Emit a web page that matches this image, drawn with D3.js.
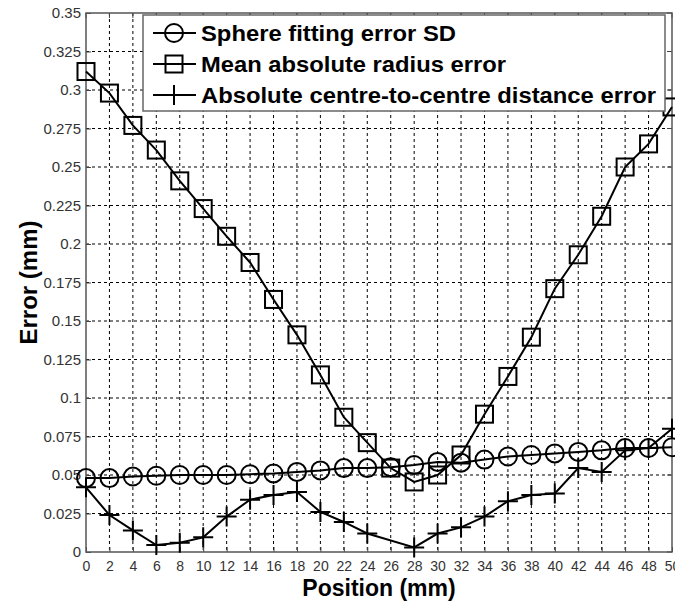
<!DOCTYPE html>
<html>
<head>
<meta charset="utf-8">
<script src="https://cdn.jsdelivr.net/npm/d3@7"></script>
<style>
  body { margin: 0; background: #fff; }
  #chart { width: 675px; height: 601px; }
  text { font-family: Arial, "Liberation Sans", sans-serif; }
</style>
</head>
<body>
<div id="chart"></div>
<script>
// positions in mm
const positions = d3.range(0, 51, 2);

// sphere fitting error SD
const sdError = [0.048, 0.048, 0.049, 0.0495, 0.050, 0.050, 0.050, 0.0505, 0.051, 0.052,
                 0.053, 0.0545, 0.0545, 0.055, 0.0565, 0.0585, 0.058, 0.060, 0.062, 0.063,
                 0.064, 0.065, 0.066, 0.0675, 0.0675, 0.068];

// mean absolute radius error
const radiusError = [0.312, 0.298, 0.277, 0.261, 0.241, 0.223, 0.205, 0.188, 0.164, 0.141,
                     0.115, 0.0875, 0.071, 0.0545, 0.0455, 0.050, 0.063, 0.0895, 0.114, 0.1395,
                     0.171, 0.193, 0.218, 0.250, 0.265, 0.289];

// absolute centre-to-centre distance error (no value at 26 mm)
const centrePositions = [0, 2, 4, 6, 8, 10, 12, 14, 16, 18, 20, 22, 24, 28, 30, 32, 34, 36, 38, 40, 42, 44, 46, 48, 50];
const centreError = [0.042, 0.024, 0.014, 0.0045, 0.006, 0.0095, 0.023, 0.034, 0.037, 0.039,
                     0.026, 0.0195, 0.012, 0.003, 0.012, 0.016, 0.023, 0.033, 0.037, 0.038,
                     0.0545, 0.052, 0.066, 0.0675, 0.080];

const xTicks = d3.range(0, 51, 2);
const yTicks = d3.range(0, 0.3501, 0.025);

const legendLabels = ["Sphere fitting error SD", "Mean absolute radius error", "Absolute centre-to-centre distance error"];

const margin = {top: 13, right: 3, bottom: 49, left: 86};
const width = 675 - margin.left - margin.right;
const height = 601 - margin.top - margin.bottom;

const svg = d3.select("#chart").append("svg")
    .attr("width", 675)
    .attr("height", 601)
    .append("g")
    .attr("transform", `translate(${margin.left}, ${margin.top})`);

const x = d3.scaleLinear().domain([0, 50]).range([0, width]);
const y = d3.scaleLinear().domain([0, 0.35]).range([height, 0]);

// dashed grid
svg.append("g")
    .selectAll("line")
    .data(xTicks.slice(1, -1))
    .join("line")
    .attr("x1", d => x(d)).attr("x2", d => x(d))
    .attr("y1", 0).attr("y2", height)
    .attr("stroke", "#000").attr("stroke-width", 1)
    .attr("stroke-dasharray", "3,3");

svg.append("g")
    .selectAll("line")
    .data(yTicks.slice(1, -1))
    .join("line")
    .attr("x1", 0).attr("x2", width)
    .attr("y1", d => y(d)).attr("y2", d => y(d))
    .attr("stroke", "#000").attr("stroke-width", 1)
    .attr("stroke-dasharray", "3,3");

// axes
const xAxis = d3.axisBottom(x).tickValues(xTicks).tickSize(-5).tickPadding(9).tickFormat(d3.format("d"));
const yAxis = d3.axisLeft(y).tickValues(yTicks).tickSize(-5).tickPadding(5).tickFormat(d => +d.toFixed(3));

const gx = svg.append("g")
    .attr("transform", `translate(0, ${height})`)
    .call(xAxis);
const gy = svg.append("g").call(yAxis);

[gx, gy].forEach(g => {
    g.select(".domain").remove();
    g.selectAll(".tick line").attr("stroke", "#444");
    g.selectAll(".tick text").attr("fill", "#333")
        .attr("font-family", "Arial, 'Liberation Sans', sans-serif");
});
gx.selectAll(".tick text").attr("font-size", "14px");
gy.selectAll(".tick text").attr("font-size", "15px");

// top and right inner ticks
svg.append("g").selectAll("line").data(xTicks).join("line")
    .attr("x1", d => x(d)).attr("x2", d => x(d))
    .attr("y1", 0).attr("y2", 5).attr("stroke", "#444");
svg.append("g").selectAll("line").data(yTicks).join("line")
    .attr("x1", width).attr("x2", width - 5)
    .attr("y1", d => y(d)).attr("y2", d => y(d)).attr("stroke", "#444");

// frame
svg.append("rect")
    .attr("x", 0).attr("y", 0)
    .attr("width", width).attr("height", height)
    .attr("fill", "none").attr("stroke", "#555").attr("stroke-width", 1.5);

// axis labels
svg.append("text")
    .attr("x", width / 2)
    .attr("y", height + 44)
    .attr("text-anchor", "middle")
    .attr("font-size", "23px")
    .attr("font-weight", "bold")
    .text("Position (mm)");

svg.append("text")
    .attr("transform", "rotate(-90)")
    .attr("x", -height / 2)
    .attr("y", -margin.left + 37)
    .attr("text-anchor", "middle")
    .attr("font-size", "24px")
    .attr("font-weight", "bold")
    .text("Error (mm)");

// lines
const line = d3.line()
    .x(d => x(d[0]))
    .y(d => y(d[1]));

const sdData = positions.map((p, i) => [p, sdError[i]]);
const radiusData = positions.map((p, i) => [p, radiusError[i]]);
const centreData = centrePositions.map((p, i) => [p, centreError[i]]);

const plot = svg.append("g");

function drawMarker(g, type, cx, cy) {
    if (type === "circle") {
        g.append("circle").attr("cx", cx).attr("cy", cy).attr("r", 9)
            .attr("fill", "none").attr("stroke", "#000").attr("stroke-width", 2);
    } else if (type === "square") {
        g.append("rect").attr("x", cx - 8.5).attr("y", cy - 8.5)
            .attr("width", 17).attr("height", 17)
            .attr("fill", "none").attr("stroke", "#000").attr("stroke-width", 2);
    } else {
        g.append("path").attr("d", `M${cx - 10},${cy}H${cx + 10}M${cx},${cy - 10}V${cy + 10}`)
            .attr("stroke", "#000").attr("stroke-width", 2);
    }
}

[[sdData, "circle"], [radiusData, "square"], [centreData, "plus"]].forEach(([data, type]) => {
    plot.append("path")
        .datum(data)
        .attr("d", line)
        .attr("fill", "none")
        .attr("stroke", "#000")
        .attr("stroke-width", 2);
    const mg = plot.append("g");
    data.forEach(d => drawMarker(mg, type, x(d[0]), y(d[1])));
});

// legend
const legend = svg.append("g").attr("transform", "translate(57, 2)");
legend.append("rect")
    .attr("x", 0).attr("y", 0)
    .attr("width", 522).attr("height", 96)
    .attr("fill", "#fff").attr("stroke", "#666").attr("stroke-width", 1.5);

const legendWidths = [255, 305, 455];
["circle", "square", "plus"].forEach((type, i) => {
    const ly = 18 + i * 31;
    const row = legend.append("g");
    row.append("line")
        .attr("x1", 10).attr("x2", 53)
        .attr("y1", ly).attr("y2", ly)
        .attr("stroke", "#000").attr("stroke-width", 2);
    drawMarker(row, type, 31, ly);
    row.append("text")
        .attr("x", 58)
        .attr("y", ly + 8)
        .attr("font-size", "22px")
        .attr("font-weight", "bold")
        .attr("textLength", legendWidths[i])
        .attr("lengthAdjust", "spacingAndGlyphs")
        .text(legendLabels[i]);
});
</script>
</body>
</html>
